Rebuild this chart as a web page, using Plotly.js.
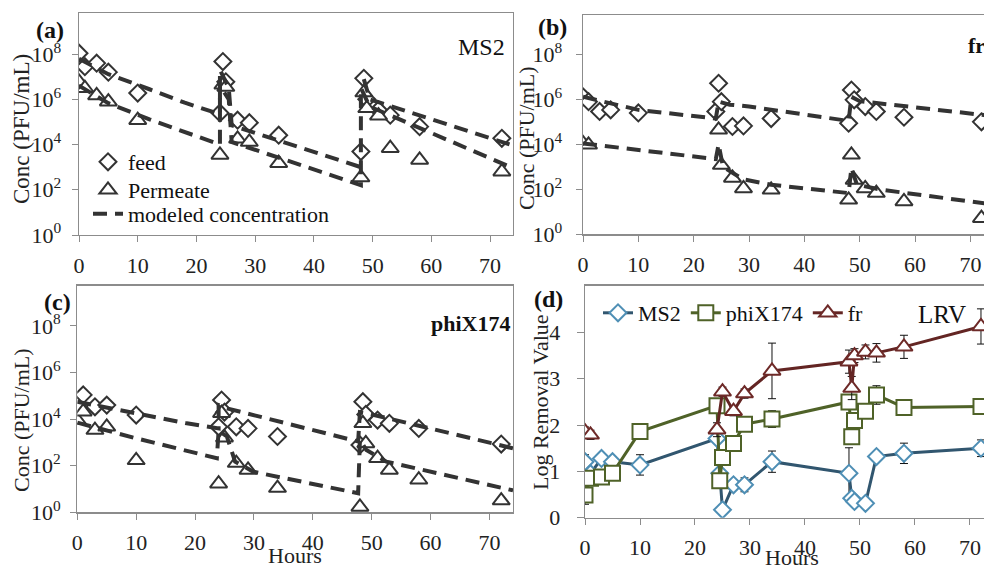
<!DOCTYPE html>
<html><head><meta charset="utf-8">
<script src="https://cdn.plot.ly/plotly-3.0.1.min.js"></script>
<style>html,body{margin:0;padding:0;background:#fff}#chart{width:984px;height:570px}</style>
</head><body><div id="chart"></div>
<script>
// ---------- DATA ----------
const hours = [0,1,3,5,10,24,24.5,25,27,29,34,48,48.5,49,51,53,58,72];

// (a) MS2, PFU/mL
const ms2Feed = [1.1e8,2.8e7,4.0e7,1.6e7,1.9e6,2.5e5,4.7e7,6.0e6,1.2e5,9.3e4,2.6e4,4.9e3,8.5e6,1.0e6,3.4e5,2.0e5,6.2e4,1.9e4];
const ms2Perm = [6.0e6,3.1e6,1.5e6,7.9e5,1.2e5,3.5e3,4.4e6,3.5e6,1.8e4,1.3e4,1.5e3,3.5e2,2.0e6,4.0e5,1.9e5,6.9e3,2.1e3,6.3e2];
const ms2ModelFeedT = [0,5,12,18,24,24,25.5,26,48,48.4,48.5,49.5,74];
const ms2ModelFeed  = [6.3e7,1.3e7,2.8e6,7.1e5,2.2e5,2.0e7,3.2e6,7.1e4,1.0e3,null,7.9e6,1.0e6,8.9e3];
const ms2ModelPermT = [0,5,12,18,24,24,25.5,26,48,48,49.5,74];
const ms2ModelPerm  = [4.0e6,6.8e5,1.3e5,3.7e4,1.0e4,4.0e6,1.0e6,1.3e4,1.6e2,3.2e6,4.8e5,8.9e2];

// (b) fr, PFU/mL
const frFeed = [1.3e6,7.9e5,2.9e5,3.4e5,2.5e5,2.9e5,5.2e6,7.9e5,6.2e4,6.6e4,1.4e5,8.7e4,2.6e6,9.5e5,4.8e5,2.9e5,1.6e5,1.0e5];
const frPerm = [1.1e4,9.5e3,null,null,null,null,4.4e4,1.2e3,3.2e2,1.1e2,9.5e1,3.4e1,3.4e3,2.6e2,1.1e2,6.8e1,2.9e1,5.2];
const frModelFeedT = [0,10,24,24.5,26.5,30,48,48.5,50,72.5];
const frModelFeed  = [1.3e6,3.4e5,1.4e5,7.9e5,5.8e5,4.8e5,1.1e5,1.3e6,8.3e5,2.0e5];
const frModelPermT = [0,24,24.5,25.3,28.9,34,48,48.5,49.5,54,72.5];
const frModelPerm  = [1.1e4,2.2e3,1.0e4,1.0e3,2.8e2,1.6e2,6.8e1,8.9e2,1.6e2,9.5e1,2.4e1];

// (c) phiX174, PFU/mL
const phiFeed = [4.0e4,1.1e5,3.4e4,4.0e4,1.5e4,4.7e3,6.6e4,2.0e4,4.7e3,4.0e3,1.8e3,7.8e2,5.6e4,1.6e4,9.1e3,6.6e3,4.0e3,8.5e2];
const phiPerm = [9.1e3,2.1e4,3.4e3,4.7e3,1.7e2,1.7e1,1.8e4,1.6e3,1.3e2,6.6e1,1.1e1,1.7,6.6e3,9.1e2,2.1e2,6.6e1,2.5e1,3.2];
const phiModelFeedT = [0,10,18.6,24,24,25.4,47.7,48,49.1,74];
const phiModelFeed  = [5.6e4,1.8e4,6.6e3,4.0e3,4.0e4,2.9e4,1.1e3,2.0e4,1.8e4,5.6e2];
const phiModelPermT = [0,10,23.7,24,25.4,26.8,29.9,47.7,48,49.1,52.5,74];
const phiModelPerm  = [7.1e3,1.5e3,2.1e2,3.2e3,1.8e3,1.5e2,5.5e1,6.6,1.3e3,4.7e2,1.5e2,8.7];

// (d) Log removal values
const lrvMS2 = [1.21,0.95,1.28,1.21,1.14,1.71,0.96,0.17,0.71,0.71,1.21,0.96,0.42,0.35,0.31,1.32,1.39,1.50];
const lrvMS2Err = [0.15,0.1,0.1,0.1,0.22,0.05,0.1,0.1,0.1,0.15,0.23,0.55,0.1,0.1,0.1,0.05,0.22,0.18];
const lrvPhi = [0.49,0.85,0.88,0.96,1.86,2.42,0.80,1.30,1.60,2.02,2.13,2.50,1.75,2.10,2.30,2.65,2.38,2.40];
const lrvPhiErr = [0.2,0.1,0.1,0.1,0.1,0.15,0.15,0.1,0.1,0.1,0.18,0.15,0.15,0.1,0.1,0.2,0.08,0.08];
const frHours = [0,1,10,24,25,27,29,34,48,48.5,49,51,53,58,72];
const lrvFr = [1.86,1.79,null,1.90,2.72,2.30,2.68,3.17,3.37,2.80,3.50,3.58,3.56,3.69,4.13];
const lrvFrErr = [0.1,0.1,null,0.15,0.1,0.1,0.1,0.6,0.25,0.25,0.15,0.15,0.2,0.25,0.38];

const yTickVals = [1,1e2,1e4,1e6,1e8];
const yTickText = ['10<sup>0</sup>','10<sup>2</sup>','10<sup>4</sup>','10<sup>6</sup>','10<sup>8</sup>'];
const xTickVals = [0,10,20,30,40,50,60,70];

// ---------- STYLE ----------
const FONT = 'Liberation Serif, Times New Roman, serif';
const W = 984, H = 570;
const px = v => v / W, py = v => 1 - v / H;
const axisCol = '#8c8c8c';
const dark = '#333333';
const dashStyle = {color: dark, width: 4, dash: '14px,8px'};
const feedMk = {symbol: 'diamond', size: 13, color: '#ffffff', line: {color: dark, width: 2}};
const permMk = {symbol: 'triangle-up', size: 15, color: '#ffffff', line: {color: dark, width: 2}};

const traces = [];
function concPanel(xa, ya, feed, perm, mfT, mf, mpT, mp, legend) {
  traces.push({x: hours, y: feed, xaxis: xa, yaxis: ya, mode: 'markers', marker: feedMk, name: 'feed', showlegend: legend, legend: 'legend'});
  traces.push({x: hours, y: perm, xaxis: xa, yaxis: ya, mode: 'markers', marker: permMk, name: 'Permeate', showlegend: legend, legend: 'legend3'});
  traces.push({x: mfT, y: mf, xaxis: xa, yaxis: ya, mode: 'lines', line: dashStyle, name: 'modeled concentration', showlegend: legend, legend: 'legend4'});
  traces.push({x: mpT, y: mp, xaxis: xa, yaxis: ya, mode: 'lines', line: dashStyle, showlegend: false});
}
concPanel('x', 'y', ms2Feed, ms2Perm, ms2ModelFeedT, ms2ModelFeed, ms2ModelPermT, ms2ModelPerm, true);
concPanel('x2', 'y2', frFeed, frPerm, frModelFeedT, frModelFeed, frModelPermT, frModelPerm, false);
concPanel('x3', 'y3', phiFeed, phiPerm, phiModelFeedT, phiModelFeed, phiModelPermT, phiModelPerm, false);

const errStyle = (arr) => ({type: 'data', array: arr, visible: true, color: '#111', thickness: 1, width: 4});
traces.push({x: hours, y: lrvMS2, xaxis: 'x4', yaxis: 'y4', mode: 'lines+markers', name: 'MS2', legend: 'legend2',
  line: {color: '#31566f', width: 3}, marker: {symbol: 'diamond', size: 13, color: '#fff', line: {color: '#4f8fb5', width: 2}},
  error_y: errStyle(lrvMS2Err)});
traces.push({x: hours, y: lrvPhi, xaxis: 'x4', yaxis: 'y4', mode: 'lines+markers', name: 'phiX174', legend: 'legend2',
  line: {color: '#4f6228', width: 3}, marker: {symbol: 'square', size: 15, color: '#fff', line: {color: '#4f6228', width: 2}},
  error_y: errStyle(lrvPhiErr)});
traces.push({x: frHours, y: lrvFr, xaxis: 'x4', yaxis: 'y4', mode: 'lines+markers', name: 'fr', legend: 'legend2', connectgaps: false,
  line: {color: '#632523', width: 3}, marker: {symbol: 'triangle-up', size: 15, color: '#fff', line: {color: '#6e2a28', width: 2}},
  error_y: errStyle(lrvFrErr)});

const tickFont = {family: FONT, size: 22, color: '#222'};
function xAxis(dom, range, anchor) {
  return {domain: dom, range: range, anchor: anchor, tickvals: xTickVals, ticks: 'outside', ticklen: 6, tickcolor: axisCol,
    showline: true, linecolor: axisCol, linewidth: 1.3, mirror: true, showgrid: false, zeroline: false,
    tickfont: tickFont, ticklabelstandoff: 4, fixedrange: true};
}
function yLog(dom, range, anchor, standoff) {
  return {domain: dom, type: 'log', range: range, anchor: anchor, tickvals: yTickVals, ticktext: yTickText, ticks: 'outside', ticklen: 6,
    tickcolor: axisCol, showline: true, linecolor: axisCol, linewidth: 1.3, mirror: true, showgrid: false, zeroline: false,
    tickfont: tickFont, ticklabelstandoff: standoff, fixedrange: true};
}

const ann = (x, y, text, opts = {}) => Object.assign({xref: 'paper', yref: 'paper', x: px(x), y: py(y), text: text, showarrow: false,
  xanchor: 'center', yanchor: 'middle', font: {family: FONT, size: 22, color: '#111'}}, opts);
const legFont = {family: FONT, size: 22, color: '#111'};
const legA = (yc) => ({x: px(88), y: py(yc), xanchor: 'left', yanchor: 'middle', bgcolor: 'rgba(0,0,0,0)', font: legFont, itemsizing: 'trace'});

const layout = {
  width: W, height: H, margin: {l: 0, r: 0, t: 0, b: 0}, paper_bgcolor: '#fff', plot_bgcolor: 'rgba(0,0,0,0)',
  hovermode: false,
  xaxis: xAxis([px(79), px(513)], [0, 73.9], 'y'),
  yaxis: yLog([py(235), py(13)], [0, 9.82], 'x', 6),
  xaxis2: xAxis([px(583), 1], [0, 72.46], 'y2'),
  yaxis2: yLog([py(234.3), py(15)], [0, 9.75], 'x2', 9),
  xaxis3: xAxis([px(77.3), px(513)], [0, 74.0], 'y3'),
  yaxis3: yLog([py(512.3), py(285.7)], [0, 9.73], 'x3', 5),
  xaxis4: xAxis([px(585), 1], [0, 72.55], 'y4'),
  yaxis4: {domain: [py(517.7), py(285.7)], range: [0, 5.01], anchor: 'x4', tickvals: [0,1,2,3,4], ticks: 'outside', ticklen: 7,
    tickcolor: axisCol, showline: true, linecolor: axisCol, linewidth: 1.3, mirror: true, showgrid: false, zeroline: false,
    tickfont: tickFont, ticklabelstandoff: 12, fixedrange: true},
  legend: legA(162),
  legend3: legA(190),
  legend4: legA(214),
  legend2: {x: px(598), y: py(313), xanchor: 'left', yanchor: 'middle', orientation: 'h', bgcolor: 'rgba(0,0,0,0)',
    font: legFont, itemsizing: 'trace'},
  annotations: [
    ann(50, 30, '<b>(a)</b>', {font: {family: FONT, size: 24, color: '#111'}}),
    ann(552, 27, '<b>(b)</b>', {font: {family: FONT, size: 24, color: '#111'}}),
    ann(57, 302, '<b>(c)</b>', {font: {family: FONT, size: 24, color: '#111'}}),
    ann(548, 299, '<b>(d)</b>', {font: {family: FONT, size: 24, color: '#111'}}),
    ann(481, 47, 'MS2', {font: {family: FONT, size: 24, color: '#111'}}),
    ann(966, 45, '<b>fr</b>', {xanchor: 'left', font: {family: FONT, size: 22, color: '#111'}}),
    ann(470, 323, '<b>phiX174</b>', {font: {family: FONT, size: 22, color: '#111'}}),
    ann(942, 314, 'LRV', {font: {family: FONT, size: 25, color: '#111'}}),
    ann(21, 129, 'Conc (PFU/mL)', {textangle: -90, font: {family: FONT, size: 23, color: '#222'}}),
    ann(526, 138, 'Conc (PFU/mL)', {textangle: -90, font: {family: FONT, size: 22, color: '#222'}}),
    ann(21, 420, 'Conc (PFU/mL)', {textangle: -90, font: {family: FONT, size: 22, color: '#222'}}),
    ann(540, 402, 'Log Removal Value', {textangle: -90, font: {family: FONT, size: 22, color: '#222'}}),
    ann(295, 555, 'Hours', {font: {family: FONT, size: 22, color: '#222'}}),
    ann(792, 557, 'Hours', {font: {family: FONT, size: 22, color: '#222'}})
  ]
};

Plotly.newPlot('chart', traces, layout, {staticPlot: true, displayModeBar: false});
</script></body></html>
